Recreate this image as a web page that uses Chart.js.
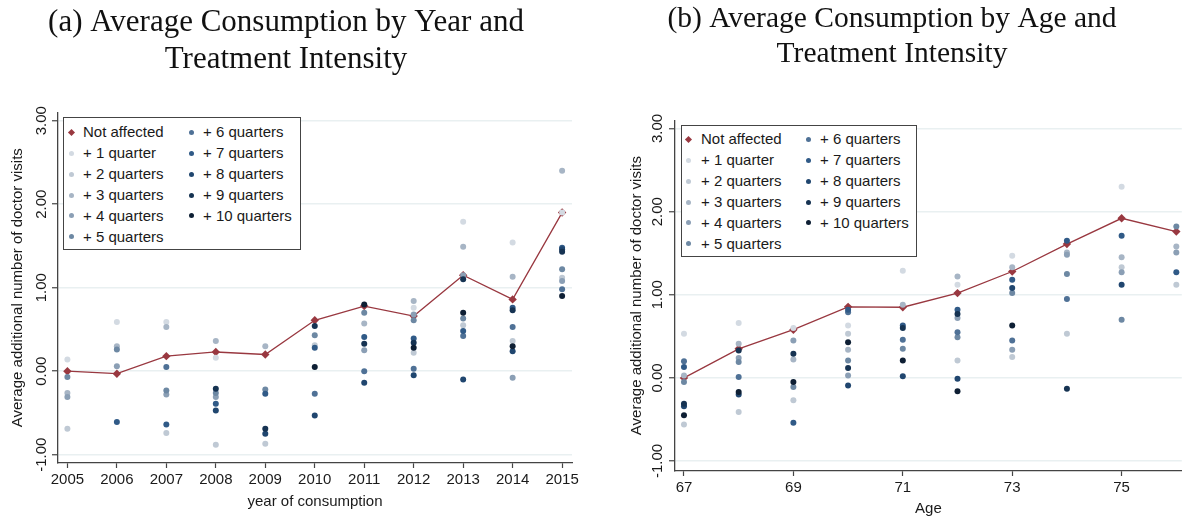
<!DOCTYPE html>
<html>
<head>
<meta charset="utf-8">
<title>Average Consumption by Year / Age and Treatment Intensity</title>
<script src="https://cdn.jsdelivr.net/npm/chart.js@4.4.1/dist/chart.umd.min.js"></script>
<style>
  html, body { margin: 0; padding: 0; background: #fff; }
  body { width: 1186px; height: 518px; position: relative; overflow: hidden; font-family: "Liberation Sans", Arial, sans-serif; }
  .panel { position: absolute; top: 0; height: 518px; }
  #panelA { left: 0; width: 600px; }
  #panelB { left: 600px; width: 586px; }
  .legend { position: absolute; border: 1px solid #444; background: #fff; box-sizing: border-box; }
  .legend .item { position: absolute; font-size: 15px; color: #1a1a1a; line-height: 18px; white-space: nowrap; }
  .legend .mark { position: absolute; width: 5px; height: 5px; border-radius: 50%; }
  .legend .mark.diamond { width: 5px; height: 5px; border-radius: 0; transform: rotate(45deg); }
</style>
</head>
<body>
<div class="panel" id="panelA">
  <canvas id="chartA" width="600" height="518"></canvas>
  <div class="legend" id="legendA" style="left:63px; top:117px; width:238px; height:133px;"></div>
</div>
<div class="panel" id="panelB">
  <canvas id="chartB" width="586" height="518"></canvas>
  <div class="legend" id="legendB" style="left:81px; top:125px; width:236px; height:132px;"></div>
</div>
<script>
// ---- data ----
const years = [2005, 2006, 2007, 2008, 2009, 2010, 2011, 2012, 2013, 2014, 2015];
const ages = [67, 68, 69, 70, 71, 72, 73, 74, 75, 76];
const yTickValues = [-1, 0, 1, 2, 3];
const ageTickValues = [67, 69, 71, 73, 75];

const titleA = ['(a) Average Consumption by Year and', 'Treatment Intensity'];
const titleB = ['(b) Average Consumption by Age and', 'Treatment Intensity'];
const yTitle = 'Average additional number of doctor visits';

const baseName = 'Not affected';
const seriesNames = ['+ 1 quarter', '+ 2 quarters', '+ 3 quarters', '+ 4 quarters', '+ 5 quarters',
  '+ 6 quarters', '+ 7 quarters', '+ 8 quarters', '+ 9 quarters', '+ 10 quarters'];
const seriesColors = ['#d3dae2', '#bfc9d4', '#a7b5c5', '#8b9fb5', '#6d88a3',
  '#4f7196', '#305a87', '#20466f', '#163352', '#0e1f34'];
const redColor = '#993840';

// panel (a): by year of consumption
const notAffectedYear = [0.00, -0.03, 0.18, 0.23, 0.20, 0.61, 0.78, 0.66, 1.15, 0.86, 1.90];
const yearQ1 = [0.14, 0.59, 0.59, 0.16, null, null, null, 0.76, 1.79, 1.54, 1.90];
const yearQ2 = [-0.69, null, -0.74, -0.88, -0.87, 0.31, null, 0.22, 0.55, 0.36, 1.12];
const yearQ3 = [-0.26, 0.30, 0.53, 0.36, 0.30, null, 0.57, 0.84, 1.49, 1.13, 2.40];
const yearQ4 = [-0.31, 0.06, -0.28, -0.31, null, null, 0.25, 0.68, 1.15, -0.08, 1.08];
const yearQ5 = [-0.07, 0.26, -0.23, -0.26, -0.22, 0.43, 0.70, 0.61, 0.63, null, 1.22];
const yearQ6 = [null, null, 0.05, null, null, -0.27, 0.00, 0.03, 0.42, 0.53, 0.98];
const yearQ7 = [null, -0.61, -0.64, -0.39, -0.27, 0.28, 0.41, 0.39, 0.48, 0.76, 1.48];
const yearQ8 = [null, null, null, -0.47, -0.75, -0.53, -0.14, -0.05, -0.10, 0.24, 1.46];
const yearQ9 = [null, null, null, -0.21, -0.69, 0.54, 0.33, 0.34, 1.10, 0.73, 1.43];
const yearQ10 = [null, null, null, null, null, 0.05, 0.80, 0.28, 0.70, 0.30, 0.90];

// panel (b): by age
const notAffectedAge = [0.00, 0.35, 0.58, 0.855, 0.85, 1.02, 1.28, 1.61, 1.92, 1.76];
const ageQ1 = [0.53, 0.66, 0.60, 0.63, 1.29, 1.12, 1.47, null, 2.30, null];
const ageQ2 = [-0.56, -0.41, -0.27, 0.53, null, 0.21, 0.25, 0.53, 1.33, 1.12];
const ageQ3 = [0.03, 0.41, 0.22, 0.34, 0.88, 1.22, 1.33, 1.51, 1.45, 1.58];
const ageQ4 = [null, 0.24, 0.45, 0.03, null, 0.72, 0.34, 1.48, 1.27, 1.51];
const ageQ5 = [-0.05, 0.19, -0.11, 0.21, 0.35, 0.49, 1.02, 1.25, 0.70, 1.82];
const ageQ6 = [0.20, 0.01, null, 0.79, 0.46, 0.55, 0.45, 0.95, null, null];
const ageQ7 = [0.13, null, -0.54, 0.82, 0.63, 0.82, 1.18, 1.65, 1.71, 1.27];
const ageQ8 = [-0.34, -0.20, null, -0.09, 0.02, -0.01, 1.08, null, 1.12, null];
const ageQ9 = [-0.31, 0.33, 0.29, 0.12, 0.60, 0.77, null, -0.13, null, null];
const ageQ10 = [-0.45, -0.17, -0.05, 0.43, 0.21, -0.16, 0.63, null, null, null];

const sansFont = '"Liberation Sans", Arial, sans-serif';
const serifFont = '"Liberation Serif", "Times New Roman", serif';
const textColor = '#1a1a1a';
const axisColor = '#444';
const gridColor = '#e9f0f1';

// Stata writes the y labels turned on their side; Chart.js can't rotate y ticks,
// so draw them here from the scale's own ticks
const rotatedYTicks = {
  id: 'rotatedYTicks',
  afterDraw(chart, args, opts) {
    const scale = chart.scales.y;
    const ctx = chart.ctx;
    ctx.save();
    ctx.font = '15px ' + sansFont;
    ctx.fillStyle = textColor;
    ctx.textAlign = 'center';
    ctx.textBaseline = 'middle';
    for (const t of scale.ticks) {
      ctx.save();
      ctx.translate(opts.x, scale.getPixelForValue(t.value));
      ctx.rotate(-Math.PI / 2);
      ctx.fillText(t.value.toFixed(2), 0, 0);
      ctx.restore();
    }
    ctx.restore();
  }
};

function toPoints(xs, ys) {
  return xs.map((x, i) => ({ x: x, y: ys[i] })).filter(p => p.y !== null);
}

function makeChart(canvasId, xs, base, quarters, o) {
  const datasets = [{
    type: 'line',
    label: baseName,
    data: toPoints(xs, base),
    borderColor: redColor,
    backgroundColor: redColor,
    borderWidth: 1.3,
    pointStyle: 'rectRot',
    pointRadius: 4.2,
    pointBorderWidth: 0,
    tension: 0,
    order: 11
  }];
  quarters.forEach((ys, i) => {
    datasets.push({
      type: 'scatter',
      label: seriesNames[i],
      data: toPoints(xs, ys),
      backgroundColor: seriesColors[i],
      borderWidth: 0,
      pointRadius: 3,
      order: 10 - i
    });
  });

  return new Chart(document.getElementById(canvasId), {
    type: 'scatter',
    data: { datasets },
    options: {
      responsive: false,
      animation: false,
      layout: { padding: { left: 0, right: o.padRight, top: 0, bottom: 0 } },
      plugins: {
        legend: { display: false },
        tooltip: { enabled: false },
        title: {
          display: true,
          text: o.title,
          color: '#111',
          font: { family: serifFont, size: o.titleSize, weight: 'normal', lineHeight: o.titleLine },
          padding: { top: o.titleTop, bottom: o.titleBottom }
        },
        rotatedYTicks: { x: o.yLabelX }
      },
      scales: {
        x: {
          type: 'linear',
          min: o.xMin,
          max: o.xMax,
          afterBuildTicks: s => { s.ticks = o.xTicks.map(v => ({ value: v })); },
          afterFit: s => { s.height = o.xHeight; },
          ticks: { callback: v => String(v), color: textColor, font: { family: sansFont, size: 15 }, padding: 3, maxRotation: 0, autoSkip: false },
          grid: { drawOnChartArea: false, tickLength: 5, tickColor: axisColor, tickWidth: 1.2 },
          border: { color: axisColor, width: 1.3 },
          title: { display: true, text: o.xTitle, color: textColor, font: { family: sansFont, size: 15 }, padding: { top: 0, bottom: o.xTitleBottom } }
        },
        y: {
          min: o.yMin,
          max: 3.1,
          afterBuildTicks: s => { s.ticks = yTickValues.map(v => ({ value: v })); },
          afterFit: s => { s.width = o.yWidth; },
          ticks: { display: false },
          grid: { color: gridColor, lineWidth: 1.5, tickColor: axisColor, tickLength: 6, tickWidth: 1.2 },
          border: { color: axisColor, width: 1.3 },
          title: { display: true, text: yTitle, color: textColor, font: { family: sansFont, size: 15 }, padding: { top: o.yTitleLeft, bottom: 0 } }
        }
      }
    },
    plugins: [rotatedYTicks]
  });
}

// legend box: first six entries in column one, the rest in column two
function buildLegend(chart, el, lay) {
  chart.data.datasets.forEach((ds, i) => {
    const col = i < 6 ? 0 : 1;
    const row = i < 6 ? i : i - 6;
    const cy = lay.rowTop + row * lay.rowStep;
    const mark = document.createElement('span');
    mark.className = 'mark' + (ds.pointStyle === 'rectRot' ? ' diamond' : '');
    mark.style.background = ds.backgroundColor;
    mark.style.left = (lay.cols[col].mark - 2.5) + 'px';
    mark.style.top = (cy - 2.5) + 'px';
    el.appendChild(mark);
    const item = document.createElement('span');
    item.className = 'item';
    item.textContent = ds.label;
    item.style.left = lay.cols[col].text + 'px';
    item.style.top = (cy - 9) + 'px';
    el.appendChild(item);
  });
}

const chartA = makeChart('chartA', years, notAffectedYear,
  [yearQ1, yearQ2, yearQ3, yearQ4, yearQ5, yearQ6, yearQ7, yearQ8, yearQ9, yearQ10], {
    title: titleA, titleSize: 31, titleLine: 1.2, titleTop: 4, titleBottom: 34,
    padRight: 28, xMin: 2004.81, xMax: 2015.2, xTicks: years, xHeight: 55,
    xTitle: 'year of consumption', xTitleBottom: 7,
    yMin: -1.1, yWidth: 58, yTitleLeft: 9, yLabelX: 41.7
  });

const chartB = makeChart('chartB', ages, notAffectedAge,
  [ageQ1, ageQ2, ageQ3, ageQ4, ageQ5, ageQ6, ageQ7, ageQ8, ageQ9, ageQ10], {
    title: titleB, titleSize: 29.5, titleLine: 1.19, titleTop: 2, titleBottom: 48,
    padRight: 2, xMin: 66.836, xMax: 76.1, xTicks: ageTickValues, xHeight: 47,
    xTitle: 'Age', xTitleBottom: 0,
    yMin: -1.12, yWidth: 75, yTitleLeft: 28, yLabelX: 58.3
  });

buildLegend(chartA, document.getElementById('legendA'),
  { rowTop: 14.3, rowStep: 20.9, cols: [{ mark: 7, text: 19 }, { mark: 127, text: 139 }] });
buildLegend(chartB, document.getElementById('legendB'),
  { rowTop: 13.3, rowStep: 20.9, cols: [{ mark: 6, text: 19 }, { mark: 126, text: 138 }] });
</script>
</body>
</html>
